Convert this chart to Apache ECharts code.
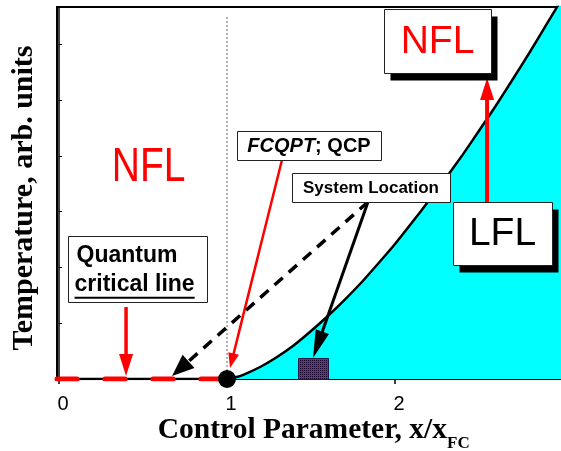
<!DOCTYPE html>
<html><head><meta charset="utf-8">
<script src="https://cdn.jsdelivr.net/npm/echarts@6/dist/echarts.min.js"></script>
<style>html,body{margin:0;padding:0;background:#fff}#c{width:561px;height:451px}</style>
</head><body><div id="c"></div>
<script>
// ---- data ----
const curveX = [1.0, 1.05, 1.1, 1.2, 1.3, 1.4, 1.5, 1.6, 1.7, 1.8, 1.9, 2.0, 2.1, 2.2, 2.3, 2.4, 2.5, 2.6, 2.7, 2.8, 2.9, 3.0];
const curveT = [0, 0.03, 0.08, 0.22, 0.40, 0.61, 0.86, 1.13, 1.42, 1.73, 2.07, 2.42, 2.80, 3.19, 3.59, 4.01, 4.45, 4.90, 5.37, 5.85, 6.35, 6.85];
const criticalLineX = [-0.012, 1];
const criticalLineT = [0, 0];
const qcpPoint = [1, 0];
const systemPoint = [1.51, 0.19];
const guideX = [1, 1];
const guideT = [0, 6.52];
const xTicks = [0, 1, 2];
const yTicks = [1, 2, 3, 4, 5, 6];
const xTitle = ['Control Parameter, x/x', 'FC'];
const yTitle = 'Temperature, arb. units';
const boxText = ['NFL', 'NFL', 'LFL', 'FCQPT; QCP', 'System Location', 'Quantum\ncritical line'];
const boxX = [0.533, 2.253, 2.640, 1.488, 1.857, 0.467];
const boxT = [3.81, 6.06, 2.61, 4.19, 3.43, 1.97];
const arrowFromX = [1.327, 0.399, 2.548, 1.839, 1.839];
const arrowFromT = [3.927, 1.291, 3.156, 3.174, 3.174];
const arrowToX = [1.018, 0.399, 2.548, 1.512, 0.673];
const arrowToT = [0.197, 0.054, 5.397, 0.377, 0.054];

// ---- styles ----
const SANS = '"Liberation Sans", Arial, sans-serif';
const SERIF = '"Liberation Serif", "Times New Roman", serif';
const arrowStyles = [
  {color: '#ff0000', width: 2.5, head: [11, 15]},
  {color: '#ff0000', width: 3.5, head: [14, 22]},
  {color: '#ff0000', width: 4, head: [14, 22]},
  {color: '#000000', width: 3, head: [14, 28]},
  {color: '#000000', width: 3.5, head: [18, 22], dash: [11, 8]}
];
const boxStyles = [
  {kind: 'plain', font: '39px ' + SANS, color: '#ff0000', scaleY: 1.24},
  {kind: 'big', box: [107, 64], shadow: [6, 7], font: '39px ' + SANS, color: '#ff0000'},
  {kind: 'big', box: [99, 63], shadow: [6, 7], font: '39px ' + SANS, color: '#000000'},
  {kind: 'italic', box: [144, 29], size: 20},
  {kind: 'bold', box: [158, 29], font: 'bold 17px ' + SANS, color: '#000000'},
  {kind: 'quantum', box: [139, 66], font: 'bold 23px ' + SANS}
];

// dotted fill for the system-location marker
const tile = document.createElement('canvas');
tile.width = 2; tile.height = 2;
(function () {
  const t = tile.getContext('2d');
  t.fillStyle = '#7a14f0'; t.fillRect(0, 0, 2, 2);
  t.fillStyle = '#14002a'; t.fillRect(0, 0, 1, 1);
})();

const measureCtx = document.createElement('canvas').getContext('2d');

function renderArrow(params, api) {
  const s = arrowStyles[params.dataIndex];
  const a = api.coord([api.value(0), api.value(1)]);
  const b = api.coord([api.value(2), api.value(3)]);
  const dx = b[0] - a[0], dy = b[1] - a[1], len = Math.hypot(dx, dy);
  const ux = dx / len, uy = dy / len, px = -uy, py = ux;
  const bx = b[0] - ux * s.head[1], by = b[1] - uy * s.head[1];
  const hw = s.head[0] / 2;
  return {type: 'group', children: [
    {type: 'line', shape: {x1: a[0], y1: a[1], x2: bx + ux * 2, y2: by + uy * 2},
     style: {stroke: s.color, lineWidth: s.width, lineDash: s.dash || null, fill: null}},
    {type: 'polygon', shape: {points: [[b[0], b[1]], [bx + px * hw, by + py * hw], [bx - px * hw, by - py * hw]]},
     style: {fill: s.color}}
  ]};
}

function renderMarker(params, api) {
  const c = api.coord([api.value(0), api.value(1)]);
  const w = 30, h = 21;
  return {type: 'rect', shape: {x: Math.round(c[0] - w / 2) + 0.5, y: Math.round(c[1] - h / 2) + 0.5, width: w, height: h},
          style: {fill: {image: tile, repeat: 'repeat'}, stroke: '#1a1a40', lineWidth: 1}};
}

function renderBox(params, api) {
  const i = params.dataIndex;
  const s = boxStyles[i];
  const text = boxText[i];
  const c = api.coord([api.value(0), api.value(1)]);
  const children = [];
  let left = c[0], top = c[1];
  if (s.box) {
    left = Math.round(c[0] - s.box[0] / 2) + 0.5;
    top = Math.round(c[1] - s.box[1] / 2) + 0.5;
    if (s.shadow) children.push({type: 'rect', shape: {x: left + s.shadow[0], y: top + s.shadow[1], width: s.box[0], height: s.box[1]}, style: {fill: '#000'}});
    children.push({type: 'rect', shape: {x: left, y: top, width: s.box[0], height: s.box[1]}, style: {fill: '#fff', stroke: '#222', lineWidth: 1}});
  }
  if (s.kind === 'plain' || s.kind === 'big' || s.kind === 'bold') {
    children.push({type: 'text', x: c[0], y: c[1] + 1, scaleY: s.scaleY || 1,
      style: {text: text, font: s.font, fill: s.color, align: 'center', verticalAlign: 'middle'}});
  } else if (s.kind === 'italic') {
    const parts = text.split(';');
    children.push({type: 'text', x: c[0], y: c[1] + 1, style: {
      text: '{i|' + parts[0] + '}{n|;' + parts[1] + '}', align: 'center', verticalAlign: 'middle',
      rich: {
        i: {fontFamily: SANS, fontSize: s.size, fontWeight: 'bold', fontStyle: 'italic', fill: '#000'},
        n: {fontFamily: SANS, fontSize: s.size, fontWeight: 'bold', fill: '#000'}
      }}});
  } else if (s.kind === 'quantum') {
    const lines = text.split('\n');
    children.push({type: 'text', x: left + 8, y: c[1] - 13, style: {text: lines[0], font: s.font, fill: '#000', align: 'left', verticalAlign: 'middle'}});
    children.push({type: 'text', x: left + 6, y: c[1] + 16, style: {text: lines[1], font: s.font, fill: '#000', align: 'left', verticalAlign: 'middle'}});
    measureCtx.font = s.font;
    const w = measureCtx.measureText(lines[1]).width;
    children.push({type: 'line', shape: {x1: left + 6, y1: c[1] + 28.5, x2: left + 6 + w, y2: c[1] + 28.5}, style: {stroke: '#000', lineWidth: 2}});
  }
  return {type: 'group', children: children};
}

const zip = (a, b) => a.map((v, k) => [v, b[k]]);

const chart = echarts.init(document.getElementById('c'), null, {renderer: 'canvas'});
chart.setOption({
  animation: false,
  grid: {left: 57, right: 0, top: 7, bottom: 72, outerBoundsMode: 'none', containLabel: false,
         show: true, borderColor: '#000', borderWidth: 2, backgroundColor: 'rgba(0,0,0,0)'},
  graphic: [{
    type: 'group', children: [
      {type: 'text', x: 447, y: 430, style: {text: xTitle[0], font: 'bold 29.5px ' + SERIF, fill: '#000', align: 'right', verticalAlign: 'middle'}},
      {type: 'text', x: 447, y: 444, style: {text: xTitle[1], font: 'bold 17px ' + SERIF, fill: '#000', align: 'left', verticalAlign: 'middle'}}
    ]
  }],
  xAxis: {
    type: 'value', min: -0.012, max: 2.988,
    axisLine: {show: true, onZero: false, lineStyle: {color: '#000', width: 2}},
    axisTick: {show: true, inside: false, length: 5, customValues: xTicks, lineStyle: {color: '#000', width: 1.5}},
    axisLabel: {customValues: xTicks, margin: 15, fontSize: 20, fontFamily: SANS, color: '#000', padding: [0, 0, 0, 8]},
    splitLine: {show: false}
  },
  yAxis: {
    type: 'value', min: 0, max: 6.67,
    axisLine: {show: true, lineStyle: {color: '#000', width: 1.5}},
    axisTick: {show: true, inside: true, length: 3, customValues: yTicks, lineStyle: {color: '#000', width: 1}},
    axisLabel: {show: false},
    splitLine: {show: false},
    name: yTitle,
    nameLocation: 'middle', nameGap: 18,
    nameTextStyle: {fontFamily: SERIF, fontWeight: 'bold', fontSize: 30, color: '#000', padding: [0, 10, 0, 0]}
  },
  series: [
    {type: 'line', data: zip(curveX, curveT), showSymbol: false, smooth: 0.2, clip: true,
     lineStyle: {color: '#000', width: 2.5}, areaStyle: {color: '#00ffff', opacity: 1}, z: 2},
    {type: 'line', data: zip(guideX, guideT), showSymbol: false, lineStyle: {color: '#666', width: 1, type: [2, 2]}, z: 3},
    {type: 'line', data: zip(criticalLineX, criticalLineT), showSymbol: false, lineStyle: {color: '#000', width: 2.5}, z: 4},
    {type: 'line', data: zip(criticalLineX, criticalLineT), showSymbol: false, lineStyle: {color: '#ff0000', width: 5, type: [20, 28], cap: 'round'}, z: 5},
    {type: 'custom', renderItem: renderMarker, data: [systemPoint], encode: {x: 0, y: 1}, z: 6},
    {type: 'custom', renderItem: renderArrow, data: arrowFromX.map((v, k) => [v, arrowFromT[k], arrowToX[k], arrowToT[k]]),
     encode: {x: [0, 2], y: [1, 3]}, clip: false, z: 8},
    {type: 'scatter', data: [qcpPoint], symbol: 'circle', symbolSize: 18, itemStyle: {color: '#000', opacity: 1}, z: 9},
    {type: 'custom', renderItem: renderBox, data: boxX.map((v, k) => [v, boxT[k]]),
     encode: {x: 0, y: 1}, clip: false, z: 10}
  ]
});
</script></body></html>
